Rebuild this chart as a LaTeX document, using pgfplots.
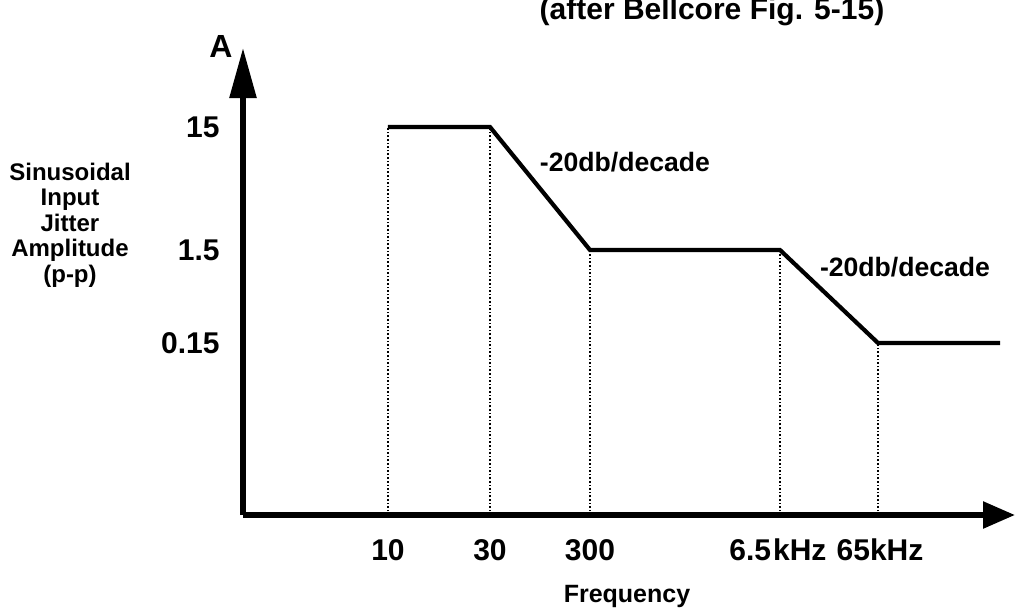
\documentclass[border=0pt]{standalone}
\usepackage{fontspec}
\setmainfont{Liberation Sans}
\usepackage{pgfplots}
\pgfplotsset{compat=1.18}
\usetikzlibrary{arrows.meta}
\begin{document}
\begin{tikzpicture}[x=0.5pt,y=0.5pt]
\useasboundingbox (-243,-97) rectangle (774,515);
\begin{axis}[
  at={(0,0)}, anchor=south west,
  scale only axis, width=386pt, height=233.5pt,
  xmin=243, xmax=1015, ymin=97, ymax=564,
  axis x line=bottom, axis y line=left,
  x axis line style={line width=2.8pt, -{Triangle[length=16pt,width=13pt]}},
  y axis line style={line width=2.8pt, -{Triangle[length=25pt,width=13pt]}},
  major tick length=0pt,
  xtick={388,490,590,778,880},
  xticklabels={10,30,300,6.5\kern1pt kHz,65kHz},
  ytick={269,362,485},
  yticklabels={0.15,1.5,15},
  xticklabel style={anchor=center, yshift=-17.5pt, font=\bfseries\fontsize{15}{17}\selectfont},
  yticklabel style={anchor=east, inner sep=0pt, xshift=-11.5pt, font=\bfseries\fontsize{15}{17}\selectfont},
  clip=false,
]
\addplot[black, line width=2.1pt, line join=miter] coordinates {(388,485) (490,485) (590,362) (780,362) (878,269) (1000,269)};
\addplot[black, densely dotted, line width=0.8pt] coordinates {(388,97) (388,485)};
\addplot[black, densely dotted, line width=0.8pt] coordinates {(490,97) (490,485)};
\addplot[black, densely dotted, line width=0.8pt] coordinates {(590,97) (590,362)};
\addplot[black, densely dotted, line width=0.8pt] coordinates {(780,97) (780,362)};
\addplot[black, densely dotted, line width=0.8pt] coordinates {(878,97) (878,269)};
\node[font=\bfseries\fontsize{12}{12.8}\selectfont, align=center] at (axis cs:70,387) {Sinusoidal\\Input\\Jitter\\Amplitude\\(p-p)};
\node[font=\bfseries\fontsize{16}{18}\selectfont] at (axis cs:221,566) {A};
\node[font=\bfseries\fontsize{15}{17}\selectfont] at (axis cs:712,600) {(after Bellcore Fig. 5-15)};
\node[font=\bfseries\fontsize{13.3}{15}\selectfont] at (axis cs:625,450) {-20db/decade};
\node[font=\bfseries\fontsize{13.3}{15}\selectfont] at (axis cs:905,345) {-20db/decade};
\node[font=\bfseries\fontsize{12.5}{14}\selectfont] at (axis cs:627,16) {Frequency};
\end{axis}
\end{tikzpicture}
\end{document}
